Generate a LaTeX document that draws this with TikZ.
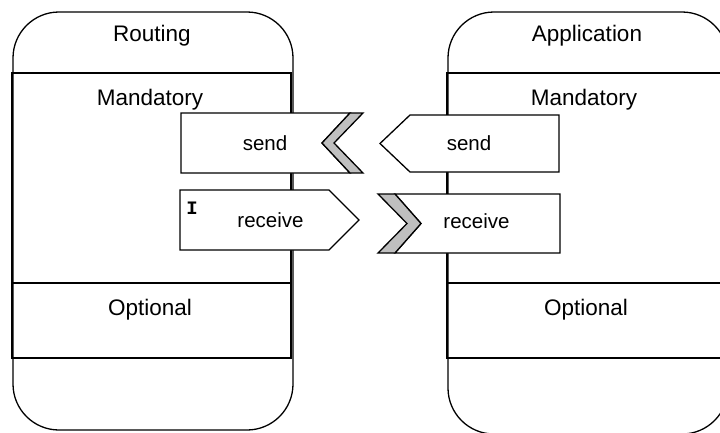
\documentclass[tikz,border=0pt]{standalone}
\usepackage{fontspec}
\setmainfont{Liberation Sans}
\newfontfamily\codefont{Liberation Mono}
\usepackage{tikz}
\usetikzlibrary{positioning}
\tikzstyle{capsule}  =[draw=black, line width=1.3pt, rounded corners=46pt]
\tikzstyle{section}  =[draw=black, line width=1.3pt]
\tikzstyle{port}     =[draw=black, fill=white, line width=1.3pt, line join=miter]
\tikzstyle{notch}    =[draw=black, fill=black!25, line width=1.3pt, line join=miter]
\tikzstyle{sectext}  =[font=\fontsize{22.5}{26}\selectfont]
\tikzstyle{porttext} =[font=\fontsize{20.5}{24}\selectfont]

\begin{document}
\begin{tikzpicture}[x=1pt, y=-1pt]
  \useasboundingbox (0,0) rectangle (720,432);
  \clip (0,0) rectangle (720,432);

  % ── Routing side ───────────────────────────────────────────────────────────
  \draw[capsule] (13,12) rectangle (293,430);
  \draw[section] (12,73)  rectangle (291,283);
  \draw[section] (12,283) rectangle (291,358);
  \node[sectext] (routing)  at (152,35.5)  {Routing};
  \node[sectext] (mandleft) at (150,99.5)  {Mandatory};
  \node[sectext] (optleft)  at (150,309.5) {Optional};

  % ── Application side (runs off the picture) ────────────────────────────────
  \draw[capsule] (448,12) rectangle (728,434);
  \draw[section] (447,73)  rectangle (726,283);
  \draw[section] (447,283) rectangle (726,358);
  \node[sectext] (application) at (587,35.5)  {Application};
  \node[sectext] (mandright)   at (584,99.5)  {Mandatory};
  \node[sectext] (optright)    at (586,309.5) {Optional};

  % ── Routing ports ──────────────────────────────────────────────────────────
  \draw[port]  (181,113) -- (350,113) -- (322,143) -- (350,173) -- (181,173) -- cycle;
  \draw[notch] (350,113) -- (363,113) -- (334,143) -- (363,173) -- (350,173) -- (322,143) -- cycle;
  \node[porttext] (sendleft) at (265,143) {send};

  \draw[port] (180,190) -- (329,190) -- (359,220) -- (329,250) -- (180,250) -- cycle;
  \node[porttext] (recvleft) at (270.5,220) {receive};
  \node[font=\codefont\bfseries\fontsize{19}{21}\selectfont] (init) at (192,208) {I};

  % ── Application ports ──────────────────────────────────────────────────────
  \draw[port] (380,143.5) -- (410,115) -- (559,115) -- (559,172) -- (410,172) -- cycle;
  \node[porttext] (sendright) at (469,143) {send};

  \draw[port]  (395,194) -- (560,194) -- (560,253) -- (395,253) -- (421,223.5) -- cycle;
  \draw[notch] (378,194) -- (395,194) -- (421,223.5) -- (395,253) -- (378,253) -- (407,223.5) -- cycle;
  \node[porttext] (recvright) at (476.5,221) {receive};

\end{tikzpicture}
\end{document}
